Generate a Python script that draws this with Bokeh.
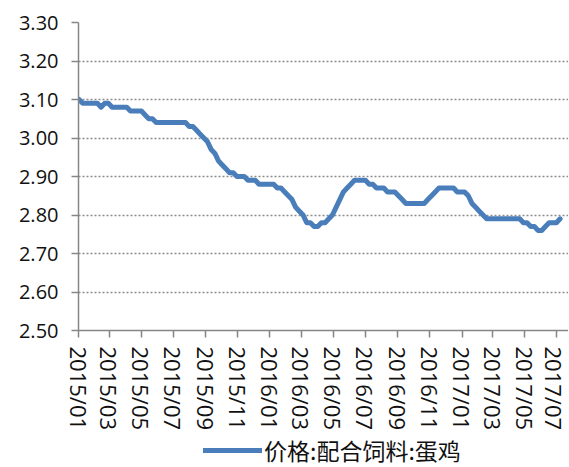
import pandas as pd
from bokeh.embed import file_html
from bokeh.layouts import column
from bokeh.models import (ColumnDataSource, DatetimeTickFormatter, FixedTicker, Legend, LegendItem,
                          NumeralTickFormatter, Range1d)
from bokeh.plotting import figure
from bokeh.resources import INLINE

# Data - weekly price, 配合饲料:蛋鸡 (yuan/kg)
price = [
    3.10, 3.09, 3.09, 3.09, 3.09, 3.09, 3.08, 3.09, 3.09, 3.08,
    3.08, 3.08, 3.08, 3.08, 3.07, 3.07, 3.07, 3.07, 3.06, 3.05,
    3.05, 3.04, 3.04, 3.04, 3.04, 3.04, 3.04, 3.04, 3.04, 3.04,
    3.03, 3.03, 3.02, 3.01, 3.00, 2.99, 2.97, 2.96, 2.94, 2.93,
    2.92, 2.91, 2.91, 2.90, 2.90, 2.90, 2.89, 2.89, 2.89, 2.88,
    2.88, 2.88, 2.88, 2.88, 2.87, 2.87, 2.86, 2.85, 2.84, 2.82,
    2.81, 2.80, 2.78, 2.78, 2.77, 2.77, 2.78, 2.78, 2.79, 2.80,
    2.82, 2.84, 2.86, 2.87, 2.88, 2.89, 2.89, 2.89, 2.89, 2.88,
    2.88, 2.87, 2.87, 2.87, 2.86, 2.86, 2.86, 2.85, 2.84, 2.83,
    2.83, 2.83, 2.83, 2.83, 2.83, 2.84, 2.85, 2.86, 2.87, 2.87,
    2.87, 2.87, 2.87, 2.86, 2.86, 2.86, 2.85, 2.83, 2.82, 2.81,
    2.80, 2.79, 2.79, 2.79, 2.79, 2.79, 2.79, 2.79, 2.79, 2.79,
    2.79, 2.78, 2.78, 2.77, 2.77, 2.76, 2.76, 2.77, 2.78, 2.78,
    2.78, 2.79,
]
dates = pd.date_range("2015-01-02", periods=len(price), freq="7D")

tick_labels = [
    "2015/01", "2015/03", "2015/05", "2015/07", "2015/09", "2015/11",
    "2016/01", "2016/03", "2016/05", "2016/07", "2016/09", "2016/11",
    "2017/01", "2017/03", "2017/05", "2017/07",
]
y_ticks = [2.50, 2.60, 2.70, 2.80, 2.90, 3.00, 3.10, 3.20, 3.30]
series_name = "价格:配合饲料:蛋鸡"

LINE_COLOR = "#4A7EBB"
AXIS_COLOR = "#868686"
GRID_COLOR = "#8C8C8C"
TEXT_COLOR = "#111111"
FONT = "Open Sans"
LINE_STYLE = dict(line_width=5, color=LINE_COLOR, line_join="round", line_cap="round")

tick_ms = [pd.Timestamp(t.replace("/", "-") + "-01").value / 1e6 for t in tick_labels]

source = ColumnDataSource(data={"date": dates, "price": price})

p = figure(
    width=568,
    height=434,
    x_axis_type="datetime",
    x_range=Range1d(pd.Timestamp("2015-01-01"), pd.Timestamp("2017-07-23")),
    y_range=Range1d(2.50, 3.30),
    output_backend="svg",
    toolbar_location=None,
)

p.line("date", "price", source=source, **LINE_STYLE)

# Axes
p.xaxis.ticker = FixedTicker(ticks=tick_ms)
p.xaxis.formatter = DatetimeTickFormatter(
    days="%Y/%m", months="%Y/%m", years="%Y/%m", hours="%Y/%m"
)
p.xaxis.major_label_orientation = "vertical"
p.xaxis.major_label_text_font_size = "22px"
p.xaxis.major_label_standoff = 9
p.yaxis.ticker = FixedTicker(ticks=y_ticks)
p.yaxis.formatter = NumeralTickFormatter(format="0.00")
p.yaxis.major_label_text_font_size = "20px"
p.yaxis.major_label_standoff = 13

for ax in (p.xaxis, p.yaxis):
    ax.axis_line_color = AXIS_COLOR
    ax.axis_line_width = 1.5
    ax.major_tick_line_color = AXIS_COLOR
    ax.major_tick_line_width = 1.5
    ax.major_tick_in = 0
    ax.major_tick_out = 7
    ax.minor_tick_line_color = None
    ax.major_label_text_font = FONT
    ax.major_label_text_color = TEXT_COLOR

# Grid
p.xgrid.grid_line_color = None
p.ygrid.ticker = FixedTicker(ticks=y_ticks[1:])
p.ygrid.grid_line_color = GRID_COLOR
p.ygrid.grid_line_dash = "2 2"
p.ygrid.grid_line_width = 1.3

p.outline_line_color = None
p.background_fill_color = "white"
p.border_fill_color = "white"
p.min_border_left = 78
p.min_border_right = 0
p.min_border_top = 22
p.min_border_bottom = 104

# Legend strip under the chart (its own small figure; the series is out of its view range)
lg = figure(
    width=568,
    height=33,
    x_range=Range1d(0, 1),
    y_range=Range1d(0, 1),
    output_backend="svg",
    toolbar_location=None,
)
sample = lg.line("date", "price", source=source, **LINE_STYLE)
lg.axis.visible = False
lg.grid.visible = False
lg.outline_line_color = None
lg.min_border = 0
legend = Legend(
    items=[LegendItem(label=series_name, renderers=[sample])],
    location=(125, 0),
    orientation="horizontal",
    padding=0,
    margin=0,
    spacing=0,
    glyph_width=59,
    glyph_height=24,
    label_height=24,
    label_standoff=2,
    label_text_font="Noto Sans CJK SC",
    label_text_font_size="23px",
    label_text_color=TEXT_COLOR,
    border_line_color=None,
    background_fill_alpha=0,
)
lg.add_layout(legend)

layout = column(p, lg, spacing=0)

open("out.html", "w").write(file_html(layout, INLINE))
